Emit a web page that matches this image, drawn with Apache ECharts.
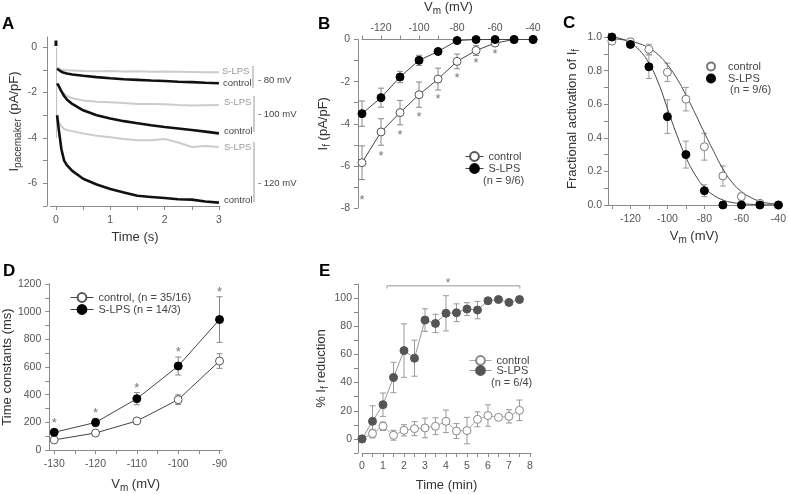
<!DOCTYPE html>
<html><head><meta charset="utf-8">
<script src="https://cdn.jsdelivr.net/npm/echarts@6/dist/echarts.min.js"></script>
<style>html,body{margin:0;padding:0;background:#fff}#c{width:789px;height:494px}</style>
</head><body><div id="c"></div>
<script>
// ---------- Panel A: current traces ----------
const A_time = [0.02,0.05,0.1,0.15,0.2,0.3,0.5,0.75,1,1.25,1.5,1.75,2,2.25,2.5,2.75,3];
const A_ctrl80 = [-0.95,-1.0,-1.08,-1.13,-1.16,-1.2,-1.26,-1.32,-1.37,-1.41,-1.44,-1.47,-1.49,-1.52,-1.54,-1.57,-1.59];
const A_slps80 = [-0.9,-0.95,-1.0,-1.0,-1.02,-1.03,-1.05,-1.06,-1.05,-1.07,-1.06,-1.08,-1.07,-1.08,-1.09,-1.1,-1.1];
const A_ctrl100 = [-1.6,-1.7,-1.95,-2.15,-2.3,-2.5,-2.78,-3.0,-3.14,-3.26,-3.35,-3.44,-3.52,-3.58,-3.65,-3.72,-3.8];
const A_slps100 = [-1.6,-1.75,-1.95,-2.05,-2.15,-2.25,-2.35,-2.4,-2.43,-2.46,-2.5,-2.5,-2.52,-2.55,-2.57,-2.56,-2.55];
const A_ctrl120 = [-3.0,-3.6,-4.5,-5.0,-5.2,-5.45,-5.8,-6.05,-6.25,-6.4,-6.55,-6.6,-6.65,-6.7,-6.72,-6.8,-6.85];
const A_slps120 = [-3.0,-3.3,-3.5,-3.6,-3.65,-3.7,-3.8,-3.9,-3.97,-4.05,-4.1,-4.1,-4.05,-4.2,-4.4,-4.35,-4.4];
const A_capT = [0, 0];
const A_capBlack = [0.3, 0.05];
const A_capGrayT = [0.012, 0.012];
const A_capGray = [0, -4.0];
const A_xTicks = [0,0.5,1,1.5,2,2.5,3];
const A_xLabels = [0,1,2,3];
const A_yTicks = [-7,-6,-5,-4,-3,-2,-1,0];
const A_yLabels = [-6,-4,-2,0];

// ---------- Panel B: I-V ----------
const B_vm = [-130,-120,-110,-100,-90,-80,-70,-60,-50,-40];
const B_ctrl = [-5.85,-4.39,-3.47,-2.62,-1.88,-1.04,-0.52,-0.17,0,0];
const B_ctrlErr = [0.8,0.63,0.58,0.6,0.52,0.35,0.24,0.1,0,0];
const B_slps = [-3.52,-2.76,-1.78,-0.99,-0.57,-0.05,0,0,0,0];
const B_slpsErr = [0.6,0.45,0.27,0.24,0.1,0,0,0,0,0];
const B_starVm = [-130,-120,-110,-100,-90,-80,-70,-60];
const B_starY = [-7.64,-5.54,-4.55,-3.7,-2.86,-1.83,-1.12,-0.73];
const B_xTicks = [-130,-120,-110,-100,-90,-80,-70,-60,-50,-40];
const B_xLabels = [-120,-100,-80,-60,-40];
const B_yTicks = [-8,-7,-6,-5,-4,-3,-2,-1,0];
const B_yLabels = [-8,-6,-4,-2,0];

// ---------- Panel C: activation ----------
const C_vm = [-130,-120,-110,-100,-90,-80,-70,-60,-50,-40];
const C_ctrl = [0.976,0.972,0.927,0.79,0.63,0.347,0.173,0.05,0.01,0];
const C_ctrlErr = [0.01,0.01,0.03,0.055,0.07,0.08,0.06,0.02,0.01,0];
const C_slps = [1.0,0.956,0.823,0.526,0.30,0.085,0,0,0,0];
const C_slpsErr = [0,0.01,0.07,0.1,0.08,0.035,0,0,0,0];
const C_fitVm = [-130,-125,-120,-115,-110,-105,-100,-95,-90,-85,-80,-75,-70,-65,-60,-55,-50,-45,-40];
const C_fitCtrl = [0.99,0.985,0.975,0.96,0.935,0.895,0.835,0.755,0.655,0.545,0.43,0.32,0.215,0.135,0.08,0.045,0.022,0.01,0.005];
const C_fitSlps = [1.0,0.99,0.965,0.92,0.845,0.73,0.575,0.42,0.285,0.18,0.105,0.058,0.03,0.015,0.008,0.004,0.002,0.001,0.0];
const C_xTicks = [-130,-120,-110,-100,-90,-80,-70,-60,-50,-40];
const C_xLabels = [-120,-100,-80,-60,-40];
const C_yTicks = [0,0.1,0.2,0.3,0.4,0.5,0.6,0.7,0.8,0.9,1.0];
const C_yLabels = [0,0.2,0.4,0.6,0.8,1.0];

// ---------- Panel D: time constants ----------
const D_vm = [-130,-120,-110,-100,-90];
const D_ctrl = [73,123,210,364,643];
const D_ctrlErr = [10,12,15,35,53];
const D_slps = [128,199,371,607,943];
const D_slpsErr = [15,30,44,65,165];
const D_starY = [192,263,448,702,1136];
const D_xTicks = [-130,-125,-120,-115,-110,-105,-100,-95,-90];
const D_xLabels = [-130,-120,-110,-100,-90];
const D_yTicks = [0,100,200,300,400,500,600,700,800,900,1000,1100,1200];
const D_yLabels = [0,200,400,600,800,1000,1200];

// ---------- Panel E: % reduction ----------
const E_time = [0,0.5,1,1.5,2,2.5,3,3.5,4,4.5,5,5.5,6,6.5,7,7.5];
const E_ctrl = [0,3.8,9,2.6,6.1,7.3,7.8,9,12.5,5.6,5.9,13.9,16.6,15.3,16,20.3];
const E_ctrlErr = [0,3,3,3.5,4,5,7,6,8,5.3,9.4,5.3,7.6,1.5,4.7,7.3];
const E_slps = [0,12.5,24.3,43.6,62.7,57.3,84.4,82,89.2,89.6,92.2,91.5,98.1,99,96.9,99];
const E_slpsErr = [0,11,8.3,10.8,19,12.8,8,6.5,12.5,6.3,4.5,6.2,1,1,1,1];
const E_bracketT = [1.19,1.19,7.52,7.52];
const E_bracketY = [106.8,108.7,108.7,106.8];
const E_starT = [4.1];
const E_starY = [110.0];
const E_xTicks = [0,0.5,1,1.5,2,2.5,3,3.5,4,4.5,5,5.5,6,6.5,7,7.5,8];
const E_xLabels = [0,1,2,3,4,5,6,7,8];
const E_yTicks = [-10,0,10,20,30,40,50,60,70,80,90,100,110];
const E_yLabels = [0,20,40,60,80,100];

// ---------- helpers ----------
const FONT = "'Liberation Sans', Arial, sans-serif";
const AX = '#8a8a8a', LBL = '#555', TTL = '#333';
const zip = (xs, ys) => xs.map((x, i) => [x, ys[i]]);
const errData = (xs, ys, es) => xs.map((x, i) => [x, ys[i] - es[i], ys[i] + es[i], es[i]]).filter(d => d[3] > 0);

function errSeries(idx, data, color, cap) {
  return {
    type: 'custom', xAxisIndex: idx, yAxisIndex: idx, data: data, z: 1, silent: true, clip: false,
    encode: { x: 0, y: [1, 2] },
    renderItem: function (p, api) {
      const x = api.value(0), lo = api.value(1), hi = api.value(2);
      const a = api.coord([x, lo]), b = api.coord([x, hi]);
      const st = { stroke: color, lineWidth: 1 };
      return { type: 'group', children: [
        { type: 'line', shape: { x1: a[0], y1: a[1], x2: b[0], y2: b[1] }, style: st },
        { type: 'line', shape: { x1: a[0] - cap, y1: a[1], x2: a[0] + cap, y2: a[1] }, style: st },
        { type: 'line', shape: { x1: b[0] - cap, y1: b[1], x2: b[0] + cap, y2: b[1] }, style: st }
      ]};
    }
  };
}

function axis(o) {
  return {
    type: 'value', gridIndex: o.g, min: o.min, max: o.max, position: o.pos, offset: o.offset || 0,
    axisLine: { show: true, onZero: false, lineStyle: { color: AX, width: 1 } },
    axisTick: { show: true, length: 4, inside: false, customValues: o.ticks, lineStyle: { color: AX } },
    axisLabel: { show: true, customValues: o.labels, margin: o.margin, color: LBL, fontSize: 10.5, fontFamily: FONT,
      formatter: o.fmt || (v => String(v)) },
    splitLine: { show: false },
    name: o.name, nameLocation: 'middle', nameGap: o.gap,
    nameTextStyle: { color: TTL, fontFamily: FONT, rich: {
      n: { fontSize: 13, lineHeight: 18, fontFamily: FONT, color: TTL, verticalAlign: 'middle' },
      s: { fontSize: 10, lineHeight: 18, fontFamily: FONT, color: TTL, verticalAlign: 'bottom' }
    }}
  };
}

const vmName = '{n|V}{s|m}{n| (mV)}';

const xAxes = [
  axis({ g: 0, min: -0.11, max: 3.02, pos: 'bottom', ticks: A_xTicks, labels: A_xLabels, margin: 9, name: '{n|Time (s)}', gap: 22 }),
  axis({ g: 1, min: -130, max: -39, pos: 'top', ticks: B_xTicks, labels: B_xLabels, margin: 6, name: vmName, gap: 23 }),
  axis({ g: 2, min: -132.1, max: -39, pos: 'bottom', ticks: C_xTicks, labels: C_xLabels, margin: 9, name: vmName, gap: 22 }),
  axis({ g: 3, min: -131.2, max: -89.4, pos: 'bottom', ticks: D_xTicks, labels: D_xLabels, margin: 9, name: vmName, gap: 25 }),
  axis({ g: 4, min: 0, max: 8.05, pos: 'bottom', ticks: E_xTicks, labels: E_xLabels, margin: 8, name: '{n|Time (min)}', gap: 23 })
];
const yAxes = [
  axis({ g: 0, min: -7, max: 0.45, pos: 'left', offset: 3, ticks: A_yTicks, labels: A_yLabels, margin: 10, name: '{n|I}{s|pacemaker}{n| (pA/pF)}', gap: 24 }),
  axis({ g: 1, min: -8, max: 0, pos: 'left', offset: 4, ticks: B_yTicks, labels: B_yLabels, margin: 8, name: '{n|I}{s|f}{n| (pA/pF)}', gap: 26 }),
  axis({ g: 2, min: 0, max: 1.024, pos: 'left', ticks: C_yTicks, labels: C_yLabels, margin: 6, name: '{n|Fractional activation of I}{s|f}', gap: 27, fmt: v => v.toFixed(1) }),
  axis({ g: 3, min: 0, max: 1200, pos: 'left', ticks: D_yTicks, labels: D_yLabels, margin: 8, name: '{n|Time constants (ms)}', gap: 24 }),
  axis({ g: 4, min: -10, max: 110, pos: 'left', offset: 4, ticks: E_yTicks, labels: E_yLabels, margin: 6, name: '{n|% I}{s|f}{n| reduction}', gap: 24 })
];

function trace(data, color, width) {
  return { type: 'line', xAxisIndex: 0, yAxisIndex: 0, data: data, showSymbol: false, symbol: 'none', silent: true,
    lineStyle: { color: color, width: width }, z: color === '#111' ? 3 : 2, animation: false };
}
function stars(idx, data, size) {
  return { type: 'scatter', xAxisIndex: idx, yAxisIndex: idx, data: data, symbolSize: 0.1, silent: true, clip: false,
    itemStyle: { color: 'transparent' }, z: 5,
    label: { show: true, position: 'inside', formatter: '*', color: '#555', fontSize: size || 13, fontFamily: FONT } };
}
function meanLine(idx, name, data, fill, border, lineColor, size) {
  return { type: 'line', name: name, xAxisIndex: idx, yAxisIndex: idx, data: data, symbol: 'circle', symbolSize: size || 8,
    showAllSymbol: true, clip: false, z: fill === '#fff' ? 3 : 4,
    itemStyle: { color: fill, borderColor: border, borderWidth: 1 },
    lineStyle: { color: lineColor, width: 1 } };
}

const GRAY = '#cccccc', BLACK = '#111';
const series = [
  trace(zip(A_time, A_slps80), GRAY, 2), trace(zip(A_time, A_slps100), GRAY, 2), trace(zip(A_time, A_slps120), GRAY, 2),
  trace(zip(A_time, A_ctrl80), BLACK, 2.6), trace(zip(A_time, A_ctrl100), BLACK, 2.6), trace(zip(A_time, A_ctrl120), BLACK, 2.6),
  trace(zip(A_capGrayT, A_capGray), '#bbbbbb', 1), trace(zip(A_capT, A_capBlack), BLACK, 3),

  errSeries(1, errData(B_vm, B_ctrl, B_ctrlErr), '#888', 3),
  errSeries(1, errData(B_vm, B_slps, B_slpsErr), '#888', 3),
  meanLine(1, 'control', zip(B_vm, B_ctrl), '#fff', '#555', '#444'),
  meanLine(1, 'S-LPS', zip(B_vm, B_slps), '#000', '#000', '#444'),
  stars(1, zip(B_starVm, B_starY)),

  { type: 'line', xAxisIndex: 2, yAxisIndex: 2, data: zip(C_fitVm, C_fitCtrl), smooth: true, symbol: 'none', silent: true, lineStyle: { color: '#444', width: 1 }, z: 2 },
  { type: 'line', xAxisIndex: 2, yAxisIndex: 2, data: zip(C_fitVm, C_fitSlps), smooth: true, symbol: 'none', silent: true, lineStyle: { color: '#444', width: 1 }, z: 2 },
  errSeries(2, errData(C_vm, C_ctrl, C_ctrlErr), '#999', 3),
  errSeries(2, errData(C_vm, C_slps, C_slpsErr), '#999', 3),
  { type: 'scatter', name: 'control ', xAxisIndex: 2, yAxisIndex: 2, data: zip(C_vm, C_ctrl), symbol: 'circle', symbolSize: 8, clip: false, z: 3,
    itemStyle: { color: '#fff', borderColor: '#777', borderWidth: 1, opacity: 1 } },
  { type: 'scatter', name: 'S-LPS ', xAxisIndex: 2, yAxisIndex: 2, data: zip(C_vm, C_slps), symbol: 'circle', symbolSize: 8, clip: false, z: 4,
    itemStyle: { color: '#000', borderColor: '#000', borderWidth: 1, opacity: 1 } },

  errSeries(3, errData(D_vm, D_ctrl, D_ctrlErr), '#888', 3),
  errSeries(3, errData(D_vm, D_slps, D_slpsErr), '#888', 3),
  meanLine(3, 'control, (n = 35/16)', zip(D_vm, D_ctrl), '#fff', '#555', '#444'),
  meanLine(3, 'S-LPS (n = 14/3)', zip(D_vm, D_slps), '#000', '#000', '#444'),
  stars(3, zip(D_vm, D_starY)),

  errSeries(4, errData(E_time, E_ctrl, E_ctrlErr), '#999', 3),
  errSeries(4, errData(E_time, E_slps, E_slpsErr), '#999', 3),
  meanLine(4, 'control  ', zip(E_time, E_ctrl), '#fff', '#888', '#aaa'),
  meanLine(4, 'S-LPS  ', zip(E_time, E_slps), '#555', '#555', '#999'),
  { type: 'line', xAxisIndex: 4, yAxisIndex: 4, data: zip(E_bracketT, E_bracketY), symbol: 'none', silent: true, clip: false, lineStyle: { color: '#999', width: 1 } },
  stars(4, zip(E_starT, E_starY), 12)
];

const legTxt = { fontSize: 11, color: '#444', fontFamily: FONT };
const legLine = { width: 1 };
const legends = [
  { data: ['control', 'S-LPS'], left: 460, top: 146, orient: 'vertical', itemWidth: 18, itemHeight: 11, itemGap: 1, textStyle: legTxt, lineStyle: legLine, selectedMode: false },
  { data: ['control ', 'S-LPS '], left: 701, top: 56, orient: 'vertical', itemWidth: 24, itemHeight: 8, itemGap: 1, textStyle: legTxt, selectedMode: false },
  { data: ['control, (n = 35/16)', 'S-LPS (n = 14/3)'], left: 65, top: 287, orient: 'vertical', itemWidth: 23, itemHeight: 11, itemGap: 1, textStyle: legTxt, lineStyle: legLine, selectedMode: false },
  { data: ['control  ', 'S-LPS  '], left: 464, top: 350, orient: 'vertical', itemWidth: 22, itemHeight: 11, itemGap: -1, textStyle: legTxt, lineStyle: legLine, selectedMode: false }
];

function txt(t, x, y, fill, font, align) {
  return { type: 'text', x: x, y: y, silent: true, style: { text: t, fill: fill, font: font, align: align || 'left', verticalAlign: 'middle' } };
}
function vline(x, y1, y2, color) {
  return { type: 'line', silent: true, shape: { x1: x, y1: y1, x2: x, y2: y2 }, style: { stroke: color, lineWidth: 1 } };
}
const LF = 'bold 17px ' + FONT;
const SF = '9.5px ' + FONT;
const NF = '11px ' + FONT;
const graphics = [
  txt('A', 2, 24, '#000', LF), txt('B', 318, 24, '#000', LF), txt('C', 563, 23, '#000', LF),
  txt('D', 3, 271, '#000', LF), txt('E', 319, 271, '#000', LF),
  txt('S-LPS', 222, 71, '#999', SF), txt('control', 223, 83, '#444', SF),
  txt('S-LPS', 224, 102, '#999', SF), txt('control', 224, 131, '#444', SF),
  txt('S-LPS', 224, 147, '#999', SF), txt('control', 224, 200, '#444', SF),
  vline(253, 66, 88, '#999'), vline(254, 96, 132, '#999'), vline(254, 142, 202, '#999'),
  txt('- 80 mV', 258, 80, '#444', SF), txt('- 100 mV', 258, 114, '#444', SF), txt('- 120 mV', 258, 183, '#444', SF),
  txt('(n = 9/6)', 483, 181, '#444', NF), txt('(n = 9/6)', 730, 90, '#444', NF), txt('(n = 6/4)', 491, 383, '#444', NF)
];

const chart = echarts.init(document.getElementById('c'));
chart.setOption({
  animation: false,
  backgroundColor: '#fff',
  textStyle: { fontFamily: FONT },
  grid: [
    { left: 50, top: 37, width: 170, height: 169 },
    { left: 362, top: 39, width: 173, height: 169 },
    { left: 608, top: 33, width: 175, height: 172 },
    { left: 46, top: 284, width: 176, height: 169 },
    { left: 362, top: 284, width: 169, height: 169 }
  ],
  xAxis: xAxes, yAxis: yAxes, legend: legends, series: series, graphic: graphics
});
</script></body></html>
